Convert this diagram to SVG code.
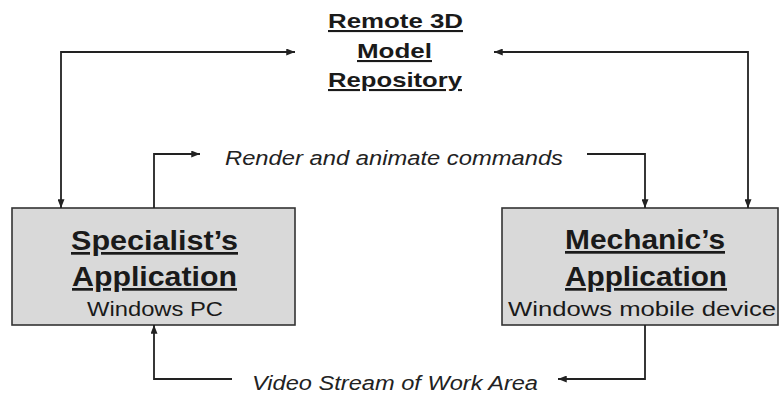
<svg xmlns="http://www.w3.org/2000/svg" width="780" height="395" viewBox="0 0 780 395">
<style>
.bg{fill:#ffffff}
.box{fill:#d9d9d9;stroke:#333333;stroke-width:1.6}
.t{font-family:"Liberation Sans",Arial,sans-serif;fill:#1a1a1a;text-anchor:middle}
.hd{font-weight:bold;font-size:27px;text-decoration:underline}
.ttl{font-weight:bold;font-size:21px;text-decoration:underline}
.sub{font-size:21px}
.lbl{font-family:"Liberation Sans",Arial,sans-serif;fill:#222222;font-style:italic;font-size:20px}
.ln{fill:none;stroke:#222222;stroke-width:1.8}
</style>
<defs>
<marker id="ah" viewBox="0 0 10 8" refX="10" refY="4" markerWidth="9" markerHeight="7" markerUnits="userSpaceOnUse" orient="auto-start-reverse">
<path d="M0,0 L10,4 L0,8 z" fill="#222222"/>
</marker>
</defs>
<rect class="bg" x="0" y="0" width="780" height="395"/>
<g id="repository">
<text class="t ttl" x="395.5" y="28" textLength="135" lengthAdjust="spacingAndGlyphs">Remote 3D</text>
<text class="t ttl" x="394.5" y="58" textLength="75" lengthAdjust="spacingAndGlyphs">Model</text>
<text class="t ttl" x="395" y="87" textLength="134" lengthAdjust="spacingAndGlyphs">Repository</text>
</g>
<g id="specialist">
<rect class="box" x="12" y="208" width="283" height="117"/>
<text class="t hd" x="154.5" y="250" textLength="167" lengthAdjust="spacingAndGlyphs">Specialist’s</text>
<text class="t hd" x="154.5" y="286" textLength="165" lengthAdjust="spacingAndGlyphs">Application</text>
<text class="t sub" x="155" y="316" textLength="136" lengthAdjust="spacingAndGlyphs">Windows PC</text>
</g>
<g id="mechanic">
<rect class="box" x="502" y="208" width="276" height="117"/>
<text class="t hd" x="645" y="249" textLength="160" lengthAdjust="spacingAndGlyphs">Mechanic’s</text>
<text class="t hd" x="646" y="286" textLength="162" lengthAdjust="spacingAndGlyphs">Application</text>
<text class="t sub" x="642" y="316" textLength="268" lengthAdjust="spacingAndGlyphs">Windows mobile device</text>
</g>
<g id="connectors">
<path class="ln" d="M295,52 H61 V208" marker-start="url(#ah)" marker-end="url(#ah)"/>
<path class="ln" d="M494,52 H748 V208" marker-start="url(#ah)" marker-end="url(#ah)"/>
<path class="ln" d="M154,208 V154 H200" marker-end="url(#ah)"/>
<path class="ln" d="M587,154 H645 V208" marker-end="url(#ah)"/>
<path class="ln" d="M645,325 V379 H558" marker-end="url(#ah)"/>
<path class="ln" d="M232,379 H154 V325" marker-end="url(#ah)"/>
<text class="lbl" x="225" y="165" textLength="338" lengthAdjust="spacingAndGlyphs">Render and animate commands</text>
<text class="lbl" x="252" y="390" textLength="286" lengthAdjust="spacingAndGlyphs">Video Stream of Work Area</text>
</g>
</svg>
